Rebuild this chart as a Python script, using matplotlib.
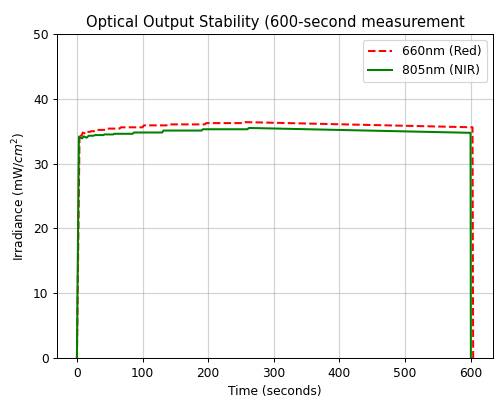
"""Optical output stability over a 600-second run."""
import matplotlib
matplotlib.use("Agg")
import matplotlib.pyplot as plt

# 660nm (Red) channel: time (s) and irradiance (mW/cm^2)
red_t = [0, 4, 7, 9, 13, 15, 20, 22, 28, 30, 45, 47, 65, 67, 100, 102,
         140, 142, 195, 197, 255, 257, 603, 604]
red_v = [0, 34.6, 34.3, 34.8, 34.6, 34.9, 34.9, 35.0, 35.0, 35.2, 35.2, 35.4,
         35.4, 35.6, 35.6, 35.9, 35.9, 36.05, 36.05, 36.25, 36.25, 36.4, 35.6, 0]

# 805nm (NIR) channel
nir_t = [0, 3, 8, 10, 15, 18, 25, 28, 40, 42, 55, 57, 85, 87, 130, 132,
         190, 192, 260, 262, 600, 600.5]
nir_v = [0, 34.1, 33.9, 34.2, 34.0, 34.3, 34.3, 34.4, 34.4, 34.5, 34.5, 34.6,
         34.6, 34.8, 34.8, 35.1, 35.1, 35.3, 35.3, 35.5, 34.75, 0]

# render at a lower dpi so text and lines come out at the reference's scale
dpi = 88.5
fig, ax = plt.subplots(figsize=(501 / dpi, 400 / dpi), dpi=dpi)
fig.subplots_adjust(left=0.114, right=0.984, top=0.915, bottom=0.105)

ax.plot(red_t, red_v, "r--", linewidth=1.65, label="660nm (Red)")
ax.plot(nir_t, nir_v, "g-", linewidth=1.65, label="805nm (NIR)")

ax.set_ylim(0, 50)
ax.set_xlabel("Time (seconds)")
ax.set_ylabel("Irradiance (mW/$cm^2$)")
ax.set_title("Optical Output Stability (600-second measurement")
ax.grid(True, alpha=0.55, linewidth=1.0)
ax.legend(loc="upper right")

fig.savefig("out.png", dpi=dpi)
